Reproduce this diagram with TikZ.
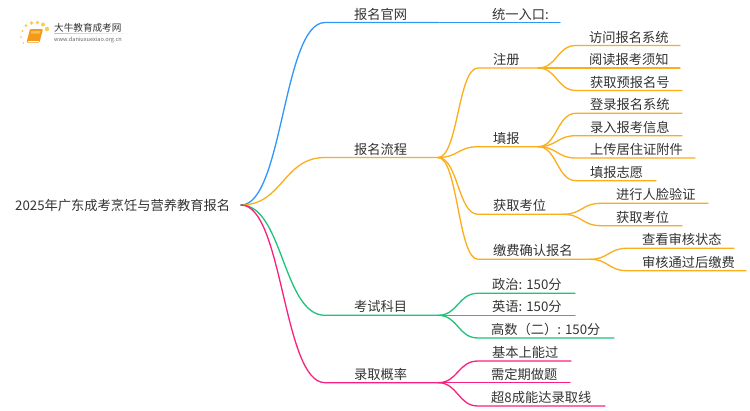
\documentclass[tikz,border=0pt]{standalone}
\usepackage{fontspec}
\setmainfont{Noto Sans CJK SC}
\usetikzlibrary{calc}
\definecolor{cblue}{HTML}{2F96FB}
\definecolor{corange}{HTML}{FBAE1B}
\definecolor{cgreen}{HTML}{1FC37A}
\definecolor{cpink}{HTML}{F9207F}
\definecolor{ctext}{HTML}{333333}
\definecolor{cbook}{HTML}{F39A1C}
\definecolor{cbookhi}{HTML}{FBC04A}
\definecolor{cdot}{HTML}{FCCB50}
\tikzset{
  lbl/.style={anchor=base west,inner sep=0pt,font=\fontsize{13.25}{14}\selectfont,text=ctext},
  wire/.style={line width=1.3pt,line cap=round},
  link/.style={to path={let \p1=(\tikztostart),\p2=(\tikztotarget) in
     .. controls (\x1/2+\x2/2,\y1) and (\x1/2+\x2/2,\y2) .. (\tikztotarget)}},
}
% colour, name, parent, x start, y, x end, text x, text
\newcommand\mitem[8]{%
  \coordinate (#2-s) at (#4,#5);
  \coordinate (#2-e) at (#6,#5);
  \node[lbl] (#2) at (#7,#5-3.5) {#8};
  \draw[wire,#1] (#3-e) to[link] (#2-s) -- (#2-e);
}
\begin{document}
\begin{tikzpicture}[x=1pt,y=-1pt]
\useasboundingbox (0,0) rectangle (750,410);
\fill[white] (0,0) rectangle (750,410);
% logo
\fill[cbook,rounded corners=1pt] (30,29) -- (43,29) -- (39.5,42.5) -- (26.5,42.5) -- cycle;
\fill[cbookhi] (31.5,31) -- (40.5,31) -- (39.8,33.5) -- (30.8,33.5) -- cycle;
\draw[white,line width=.5pt] (28,41) -- (39,41);
\foreach \x/\y/\r in {47/29/2.2,43/24.5/2,37.5/22.5/1.9,31.5/23/1.8,26/25.5/1.5,22.5/31/1.2,21/37/1,23.5/43/.8}{
  \fill[cdot] (\x,\y) circle (\r);
}
\shade[left color=black!25,right color=white] (54,33) rectangle (133,33.6);
\node[anchor=base west,inner sep=0pt,font=\fontsize{9.6}{10}\selectfont,text=ctext] (logotitle) at (54,31) {大牛教育成考网};
\node[anchor=base west,inner sep=0pt,font=\fontsize{5.6}{6}\selectfont,text=black!60] (logourl) at (54,41) {www.daniuxuexiao.org.cn};
% root
\coordinate (root-e) at (241,205);
\node[lbl] (root) at (15,210.5) {2025年广东成考烹饪与营养教育报名};
% blue
\mitem{cblue}{a}{root}{325}{22.5}{438}{354}{报名官网}
\mitem{cblue}{a1}{a}{438}{22.5}{560}{492}{统一入口:}
% orange
\mitem{corange}{b}{root}{325}{157.5}{438}{354}{报名流程}
\mitem{corange}{b1}{b}{478}{68}{538}{493}{注册}
\mitem{corange}{b11}{b1}{576}{45.5}{680}{589}{访问报名系统}
\mitem{corange}{b12}{b1}{576}{68}{680}{589}{阅读报考须知}
\mitem{corange}{b13}{b1}{576}{90.5}{682}{590}{获取预报名号}
\mitem{corange}{b2}{b}{478}{146.7}{538}{493}{填报}
\mitem{corange}{b21}{b2}{576}{113.3}{682}{590}{登录报名系统}
\mitem{corange}{b22}{b2}{576}{135.7}{682}{590}{录入报考信息}
\mitem{corange}{b23}{b2}{576}{158}{695}{590}{上传居住证附件}
\mitem{corange}{b24}{b2}{576}{180.7}{656}{590}{填报志愿}
\mitem{corange}{b3}{b}{478}{214.3}{563}{493}{获取考位}
\mitem{corange}{b31}{b3}{601}{203.3}{708}{616}{进行人脸验证}
\mitem{corange}{b32}{b3}{601}{225.7}{682}{616}{获取考位}
\mitem{corange}{b4}{b}{478}{259.3}{590}{493}{缴费确认报名}
\mitem{corange}{b41}{b4}{627}{248.3}{734}{642}{查看审核状态}
\mitem{corange}{b42}{b4}{627}{270.7}{746}{642}{审核通过后缴费}
% green
\mitem{cgreen}{c}{root}{325}{315.3}{438}{354}{考试科目}
\mitem{cgreen}{c1}{c}{478}{293.3}{575}{492}{政治: 150分}
\mitem{cgreen}{c2}{c}{478}{315.3}{575}{492}{英语: 150分}
\mitem{cgreen}{c3}{c}{478}{338}{614}{491}{高数（二）: 150分}
% pink
\mitem{cpink}{d}{root}{325}{382.7}{438}{354}{录取概率}
\mitem{cpink}{d1}{d}{478}{361}{571}{492}{基本上能过}
\mitem{cpink}{d2}{d}{478}{382.7}{570}{491}{需定期做题}
\mitem{cpink}{d3}{d}{478}{406}{605}{491}{超8成能达录取线}
\end{tikzpicture}
\end{document}
